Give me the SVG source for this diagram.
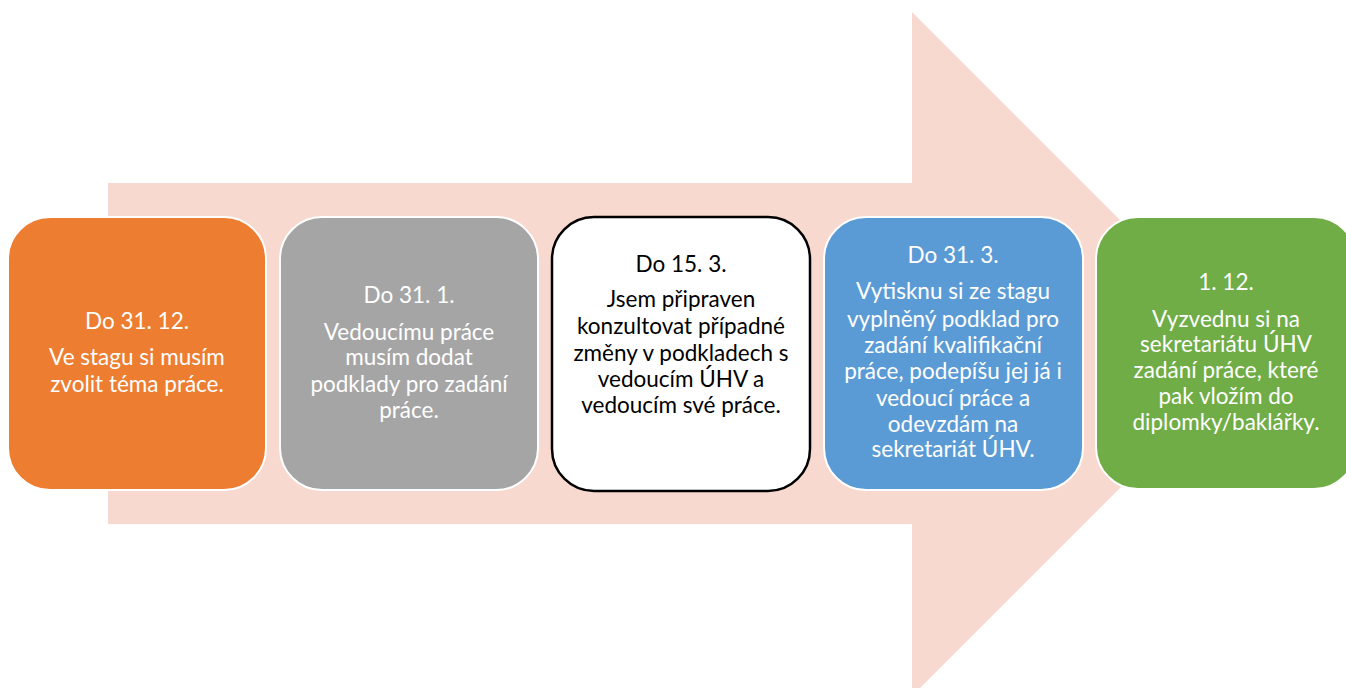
<svg xmlns="http://www.w3.org/2000/svg" width="1346" height="688" viewBox="0 0 1346 688">
<style>
.box{stroke:#ffffff;stroke-width:2}
.t{font-family:Lato,"Open Sans","Liberation Sans",sans-serif;font-size:22.5px;text-anchor:middle}
.w{fill:#ffffff}
.k{fill:#000000}
</style>
<rect width="1346" height="688" fill="#ffffff"/>
<g id="arrow">
<polygon points="108,183 912,183 912,12 1254,354 912,696 912,524 108,524" fill="#F8D9CF"/>
</g>
<g id="node1">
<rect class="box" x="8" y="217" width="258" height="273" rx="42" fill="#ED7D31"/>
<text class="t w" x="137" y="329">Do 31. 12.</text>
<text class="t w" x="137" y="365">Ve stagu si musím</text>
<text class="t w" x="137" y="392">zvolit téma práce.</text>
</g>
<g id="node2">
<rect class="box" x="280" y="217" width="258" height="273" rx="42" fill="#A5A5A5"/>
<text class="t w" x="409" y="303">Do 31. 1.</text>
<text class="t w" x="409" y="340">Vedoucímu práce</text>
<text class="t w" x="409" y="365">musím dodat</text>
<text class="t w" x="409" y="392">podklady pro zadání</text>
<text class="t w" x="409" y="418">práce.</text>
</g>
<g id="node3">
<rect x="552" y="217" width="258" height="274" rx="42" fill="#ffffff" stroke="#000000" stroke-width="2.5"/>
<text class="t k" x="681" y="272">Do 15. 3.</text>
<text class="t k" x="681" y="307">Jsem připraven</text>
<text class="t k" x="681" y="334">konzultovat případné</text>
<text class="t k" x="681" y="361">změny v podkladech s</text>
<text class="t k" x="681" y="387">vedoucím ÚHV a</text>
<text class="t k" x="681" y="413">vedoucím své práce.</text>
</g>
<g id="node4">
<rect class="box" x="824" y="217" width="259" height="273" rx="42" fill="#5B9BD5"/>
<text class="t w" x="953" y="263">Do 31. 3.</text>
<text class="t w" x="953" y="299">Vytisknu si ze stagu</text>
<text class="t w" x="953" y="327">vyplněný podklad pro</text>
<text class="t w" x="953" y="353">zadání kvalifikační</text>
<text class="t w" x="953" y="379">práce, podepíšu jej já i</text>
<text class="t w" x="953" y="406">vedoucí práce a</text>
<text class="t w" x="953" y="432">odevzdám na</text>
<text class="t w" x="953" y="457">sekretariát ÚHV.</text>
</g>
<g id="node5">
<rect class="box" x="1096" y="217" width="260" height="272" rx="42" fill="#70AD47"/>
<text class="t w" x="1226" y="290">1. 12.</text>
<text class="t w" x="1226" y="327">Vyzvednu si na</text>
<text class="t w" x="1226" y="352">sekretariátu ÚHV</text>
<text class="t w" x="1226" y="378">zadání práce, které</text>
<text class="t w" x="1226" y="404">pak vložím do</text>
<text class="t w" x="1226" y="430">diplomky/baklářky.</text>
</g>
<g id="connectors"></g>
</svg>
